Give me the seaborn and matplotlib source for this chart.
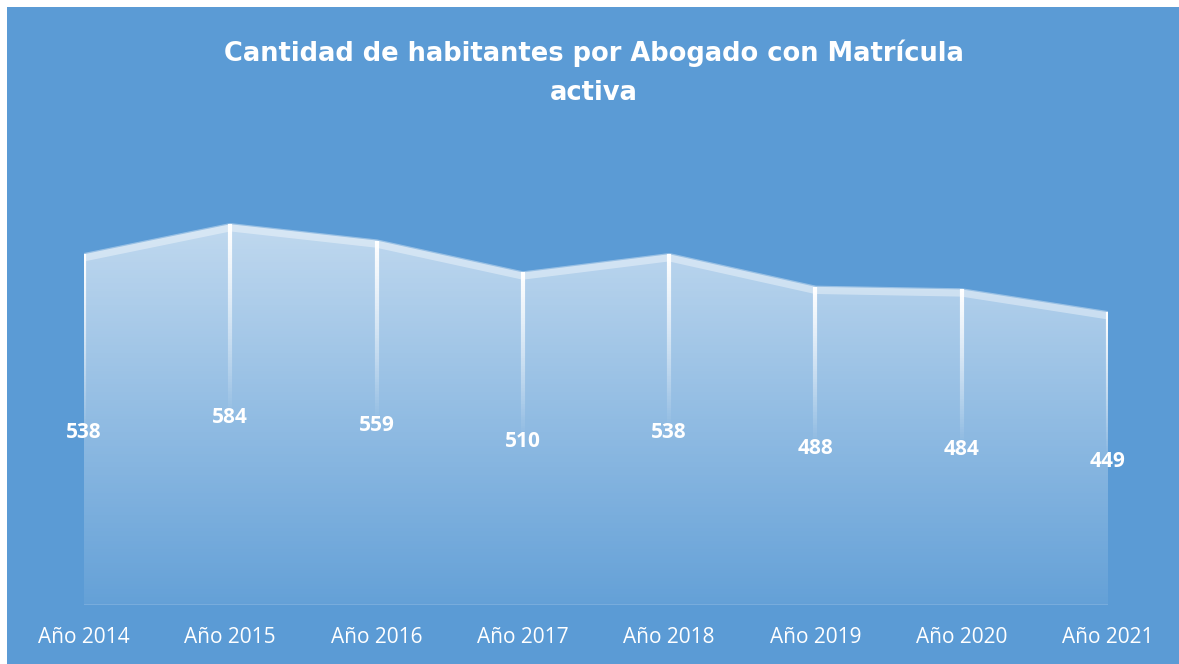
import numpy as np
import seaborn as sns
import matplotlib.pyplot as plt
import matplotlib.transforms as mtransforms
from matplotlib.collections import LineCollection
from matplotlib.patches import Rectangle

years = ["Año 2014", "Año 2015", "Año 2016", "Año 2017",
         "Año 2018", "Año 2019", "Año 2020", "Año 2021"]
habitantes = [538, 584, 559, 510, 538, 488, 484, 449]
title = "Cantidad de habitantes por Abogado con Matrícula\nactiva"

BG = "#5B9BD5"

sns.set_theme(style="white")
plt.rcParams["font.family"] = ["Open Sans", "DejaVu Sans"]

W, H = 1179, 664
fig = plt.figure(figsize=(W / 100, H / 100), dpi=100, facecolor="white")
# blue chart area (thin white strip left and top like the screenshot)
fig.patches.append(Rectangle((7 / W, 0), 1, 1 - 7 / H, transform=fig.transFigure,
                             facecolor=BG, edgecolor="none", zorder=-10))

left, right = 84, 1108
bottom_px, top_px = 605, 130
ax = fig.add_axes([left / W, (H - bottom_px) / H, (right - left) / W,
                   (bottom_px - top_px) / H])
ax.patch.set_alpha(0)
x = np.arange(len(years))
ymax = (bottom_px - top_px) / 0.652
ax.set_xlim(0, len(years) - 1)
ax.set_ylim(0, ymax)

# area with white->transparent vertical gradient
poly = ax.fill_between(x, habitantes, 0, color="none", lw=0)
top = max(habitantes)
grad = np.zeros((256, 1, 4))
grad[..., :3] = 1.0
grad[:, 0, 3] = np.linspace(0.62, 0.06, 256)
img = ax.imshow(grad, extent=(0, len(years) - 1, 0, top), origin="upper",
                aspect="auto", zorder=1, interpolation="bilinear")
img.set_clip_path(poly.get_paths()[0], transform=ax.transData)

# light band along the top edge
band = sns.lineplot(x=x, y=habitantes, ax=ax, color="white", lw=6, alpha=0.38,
                    zorder=2)
off = mtransforms.offset_copy(ax.transData, fig=fig, x=0, y=-3, units="dots")
band.lines[0].set_transform(off)
band.lines[0].set_solid_capstyle("butt")

# faint base line
ax.plot([0, len(years) - 1], [0, 0], color="white", alpha=0.15, lw=2, zorder=2)

# fading drop lines
for xi, v in zip(x, habitantes):
    ys = np.linspace(v, v / 2 + 12, 60)
    segs = [[(xi, ys[i]), (xi, ys[i + 1])] for i in range(len(ys) - 1)]
    alphas = np.linspace(1.0, 0.05, len(segs))
    cols = [(1, 1, 1, a) for a in alphas]
    ax.add_collection(LineCollection(segs, colors=cols, linewidths=3,
                                     zorder=3, capstyle="butt"))
    ax.text(xi, v / 2 - 4, f"{v}", color="white", fontsize=15, fontweight="bold",
            ha="center", va="center", zorder=4)

ax.set_xticks(x)
ax.set_xticklabels(years, color="white", fontsize=15)
ax.tick_params(axis="x", length=0, pad=16)
ax.set_yticks([])
for s in ax.spines.values():
    s.set_visible(False)
ax.grid(False)

fig.text(594 / W, 1 - 73 / H, title, color="white", fontsize=18.5,
         fontweight="bold", ha="center", va="center", linespacing=1.65,
         family=["DejaVu Sans"])

fig.savefig("out.png", dpi=100, facecolor="white")
